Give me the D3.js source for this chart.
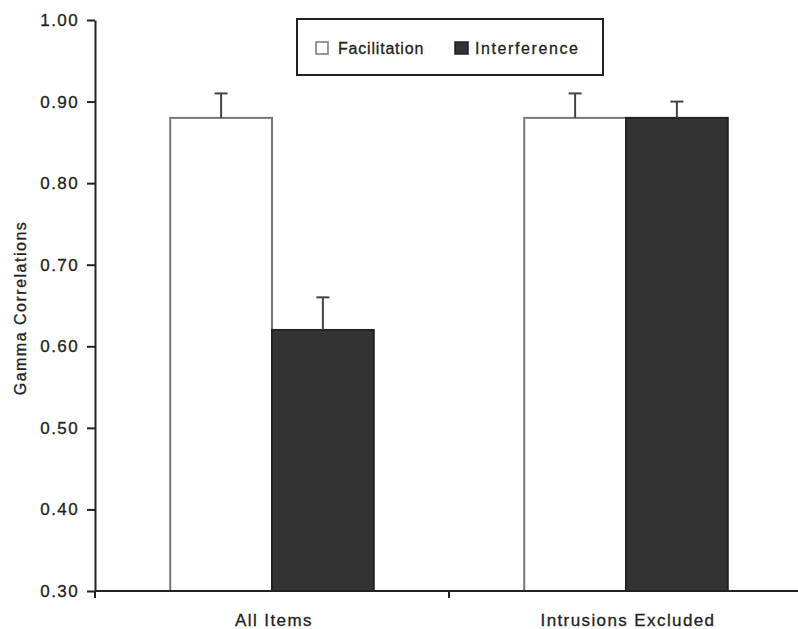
<!DOCTYPE html>
<html>
<head>
<meta charset="utf-8">
<script src="https://cdn.jsdelivr.net/npm/d3@7"></script>
<style>
  body { margin: 0; background: #fff; }
  svg text { font-family: "Liberation Sans", Arial, Helvetica, sans-serif; fill: #222; stroke: #222; stroke-width: 0.3px; }
</style>
</head>
<body>
<div id="chart"></div>
<script>
// Data
const categories = ["All Items", "Intrusions Excluded"];
const series = ["Facilitation", "Interference"];
const means = {
    "Facilitation": [0.88, 0.88],
    "Interference": [0.62, 0.88]
};
const errors = {
    "Facilitation": [0.03, 0.03],
    "Interference": [0.04, 0.02]
};
const yTicks = [0.30, 0.40, 0.50, 0.60, 0.70, 0.80, 0.90, 1.00];

const W = 798, H = 629;
const margin = {top: 20, right: -5, bottom: 38, left: 95};

const svg = d3.select("#chart").append("svg")
    .attr("width", W)
    .attr("height", H);

// Scales
const x0 = d3.scaleBand()
    .domain(categories)
    .range([margin.left, W - margin.right])
    .paddingInner(0.425)
    .paddingOuter(0.2125);

const x1 = d3.scaleBand()
    .domain(series)
    .range([0, x0.bandwidth()]);

const y = d3.scaleLinear()
    .domain([0.3, 1.0])
    .range([H - margin.bottom, margin.top]);

const fills = {"Facilitation": "#ffffff", "Interference": "#333333"};
const strokes = {"Facilitation": "#777777", "Interference": "#222222"};

// rows for the bars
const rows = [];
categories.forEach((c, i) => {
    series.forEach(s => {
        rows.push({cat: c, ser: s, value: means[s][i], err: errors[s][i]});
    });
});

// Bars
svg.selectAll(".bar")
    .data(rows)
    .enter()
    .append("rect")
    .attr("class", "bar")
    .attr("x", d => x0(d.cat) + x1(d.ser))
    .attr("y", d => y(d.value))
    .attr("width", x1.bandwidth())
    .attr("height", d => y(0.3) - y(d.value))
    .style("fill", d => fills[d.ser])
    .style("stroke", d => strokes[d.ser])
    .style("stroke-width", 2);

// Error bars (upper only)
const eb = svg.selectAll(".err")
    .data(rows)
    .enter()
    .append("g")
    .attr("class", "err")
    .style("stroke", "#444")
    .style("stroke-width", 2);

eb.append("line")
    .attr("x1", d => x0(d.cat) + x1(d.ser) + x1.bandwidth() / 2)
    .attr("x2", d => x0(d.cat) + x1(d.ser) + x1.bandwidth() / 2)
    .attr("y1", d => y(d.value))
    .attr("y2", d => y(d.value + d.err));

eb.append("line")
    .attr("x1", d => x0(d.cat) + x1(d.ser) + x1.bandwidth() / 2 - 6.5)
    .attr("x2", d => x0(d.cat) + x1(d.ser) + x1.bandwidth() / 2 + 6.5)
    .attr("y1", d => y(d.value + d.err))
    .attr("y2", d => y(d.value + d.err));

// Y axis
const yAxis = svg.append("g")
    .attr("transform", `translate(${margin.left},0)`)
    .call(d3.axisLeft(y).tickValues(yTicks).tickFormat(d3.format(".2f")).tickSize(8).tickSizeOuter(0));

yAxis.select(".domain").style("stroke", "#222").style("stroke-width", 2);
yAxis.selectAll(".tick line").style("stroke", "#222").style("stroke-width", 2);
yAxis.selectAll(".tick text")
    .attr("x", -16)
    .style("font-size", "17px")
    .style("letter-spacing", "1.4px")
    .style("fill", "#222");

// X axis line with ticks at category boundaries
const x0Axis = svg.append("g")
    .attr("transform", `translate(0,${y(0.3)})`);

x0Axis.append("line")
    .attr("x1", margin.left)
    .attr("x2", W - margin.right)
    .style("stroke", "#222")
    .style("stroke-width", 2);

const bounds = d3.range(categories.length + 1).map(i => margin.left + i * x0.step());
x0Axis.selectAll(".btick")
    .data(bounds)
    .enter()
    .append("line")
    .attr("class", "btick")
    .attr("x1", d => d)
    .attr("x2", d => d)
    .attr("y1", 0)
    .attr("y2", 7)
    .style("stroke", "#222")
    .style("stroke-width", 2);

x0Axis.selectAll(".cat-label")
    .data(categories)
    .enter()
    .append("text")
    .attr("class", "cat-label")
    .attr("x", d => x0(d) + x0.bandwidth() / 2 + 2)
    .attr("y", 35)
    .attr("text-anchor", "middle")
    .style("font-size", "17px")
    .style("letter-spacing", "1.4px")
    .text(d => d);

// Y axis title
svg.append("text")
    .attr("transform", `translate(26,${308}) rotate(-90)`)
    .attr("text-anchor", "middle")
    .style("font-size", "16px")
    .style("letter-spacing", "1.5px")
    .text("Gamma Correlations");

// Legend
const legend = svg.append("g").attr("class", "legend");
legend.append("rect")
    .attr("x", 297)
    .attr("y", 19)
    .attr("width", 306)
    .attr("height", 56)
    .style("fill", "#fff")
    .style("stroke", "#222")
    .style("stroke-width", 2);

const legendX = [316, 455];
const legendSpacing = ["0.8px", "1.6px"];
const items = legend.selectAll(".item")
    .data(series)
    .enter()
    .append("g")
    .attr("class", "item")
    .attr("transform", (d, i) => `translate(${legendX[i]},42)`);

items.append("rect")
    .attr("width", (d, i) => i === 0 ? 12 : 13)
    .attr("height", 12)
    .style("fill", d => fills[d])
    .style("stroke", d => strokes[d])
    .style("stroke-width", 1.5);

items.append("text")
    .attr("x", (d, i) => i === 0 ? 22 : 20)
    .attr("y", 12)
    .style("font-size", "16px")
    .style("letter-spacing", (d, i) => legendSpacing[i])
    .text(d => d);
</script>
</body>
</html>
